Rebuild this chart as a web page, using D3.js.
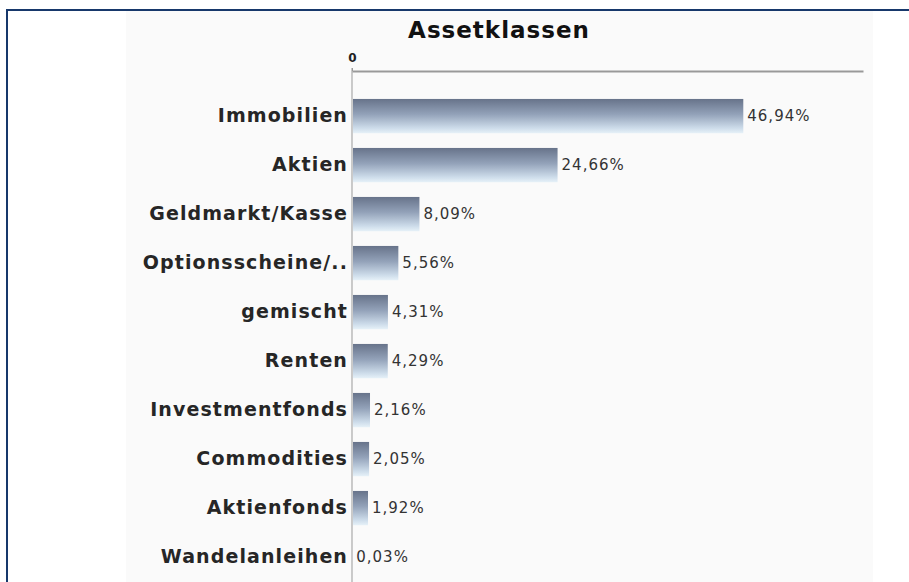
<!DOCTYPE html>
<html>
<head>
<meta charset="utf-8">
<script src="https://cdn.jsdelivr.net/npm/d3@7"></script>
<style>
  html, body { margin: 0; padding: 0; background: #ffffff; }
  svg { display: block; }
</style>
</head>
<body>
<div id="chart"></div>
<script>
const categories = ['Immobilien', 'Aktien', 'Geldmarkt/Kasse', 'Optionsscheine/..', 'gemischt',
  'Renten', 'Investmentfonds', 'Commodities', 'Aktienfonds', 'Wandelanleihen'];
const values = [46.94, 24.66, 8.09, 5.56, 4.31, 4.29, 2.16, 2.05, 1.92, 0.03];
const xTicks = [0];
const title = 'Assetklassen';

const width = 909, height = 582;

const svg = d3.select('#chart')
  .append('svg')
  .attr('width', width)
  .attr('height', height);

// bar gradient (dark slate at top, pale blue at bottom)
const grad = svg.append('defs').append('linearGradient')
  .attr('id', 'barGrad')
  .attr('x1', 0).attr('y1', 0).attr('x2', 0).attr('y2', 1);
grad.append('stop').attr('offset', '0%').attr('stop-color', '#67738a');
grad.append('stop').attr('offset', '45%').attr('stop-color', '#93a2b9');
grad.append('stop').attr('offset', '85%').attr('stop-color', '#cddcea');
grad.append('stop').attr('offset', '100%').attr('stop-color', '#e6f1f8');

// frame and panel
svg.append('rect')
  .attr('x', 126).attr('y', 11)
  .attr('width', 747).attr('height', height - 11)
  .attr('fill', '#fafafa');

svg.append('path')
  .attr('d', `M7,${height} V10 H${width}`)
  .attr('fill', 'none')
  .attr('stroke', '#17386b')
  .attr('stroke-width', 2);

const x = d3.scaleLinear()
  .domain([0, 61.3])
  .range([352, 863]);

const y = d3.scaleBand()
  .domain(categories)
  .range([91.6, 581.6])
  .paddingInner(0.3)
  .paddingOuter(0.15);

const de = d3.formatLocale({ decimal: ',', thousands: '.', grouping: [3], currency: ['', '€'] });
const fmt = de.format('.2f');

// title
svg.append('text')
  .attr('x', 499)
  .attr('y', 38)
  .attr('text-anchor', 'middle')
  .style('font-family', 'DejaVu Sans, sans-serif')
  .style('font-weight', 'bold')
  .style('font-size', '23px')
  .style('letter-spacing', '1px')
  .style('fill', '#111')
  .text(title);

// top axis
const xAxis = svg.append('g')
  .attr('transform', 'translate(0,71)')
  .call(d3.axisTop(x).tickValues(xTicks).tickSize(3).tickSizeOuter(0).tickFormat(d3.format('d')));
xAxis.select('.domain').attr('stroke', '#999').attr('stroke-width', 2);
xAxis.selectAll('.tick line').attr('stroke', '#999');
xAxis.selectAll('.tick text')
  .style('font-family', 'DejaVu Sans, sans-serif')
  .style('font-weight', 'bold')
  .style('font-size', '12px')
  .style('fill', '#222')
  .attr('dy', '-3');

// vertical axis line
svg.append('line')
  .attr('x1', x(0)).attr('x2', x(0))
  .attr('y1', 68).attr('y2', height)
  .attr('stroke', '#999')
  .attr('stroke-width', 1);

// bars
svg.selectAll('.bar')
  .data(values)
  .enter()
  .append('rect')
  .attr('class', 'bar')
  .attr('x', x(0) + 1)
  .attr('y', (d, i) => y(categories[i]))
  .attr('width', d => Math.max(0, x(d) - x(0) - 1))
  .attr('height', y.bandwidth())
  .attr('fill', 'url(#barGrad)');

// category labels
const yAxis = svg.append('g')
  .attr('transform', `translate(${x(0)},0)`)
  .call(d3.axisLeft(y).tickSize(0).tickPadding(4));
yAxis.select('.domain').remove();
yAxis.selectAll('.tick text')
  .style('font-family', 'DejaVu Sans, sans-serif')
  .style('font-weight', 'bold')
  .style('font-size', '19px')
  .style('letter-spacing', '1.1px')
  .style('fill', '#262626');

// value labels
svg.selectAll('.value')
  .data(values)
  .enter()
  .append('text')
  .attr('class', 'value')
  .attr('x', d => x(d) + 4)
  .attr('y', (d, i) => y(categories[i]) + y.bandwidth() / 2)
  .attr('dy', '0.35em')
  .style('font-family', 'DejaVu Sans, sans-serif')
  .style('font-size', '15px')
  .style('letter-spacing', '1px')
  .style('fill', '#333')
  .text(d => fmt(d) + '%');
</script>
</body>
</html>
